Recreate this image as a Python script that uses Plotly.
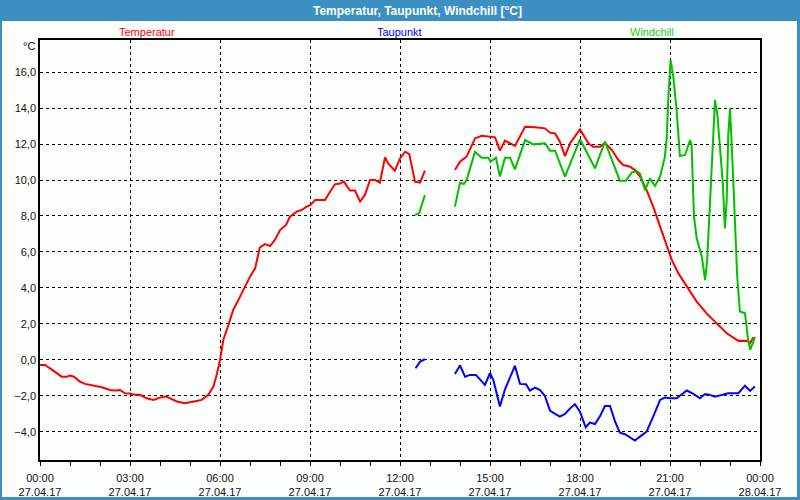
import plotly.graph_objects as go

# Stunden seit 27.04.17 00:00, None = Messlücke
temp_h = [0.0, 0.17, 0.44, 0.72, 0.89, 1.0, 1.13, 1.33, 1.5, 1.78, 2.06, 2.33, 2.5, 2.67, 2.83, 3.0,
          3.17, 3.33, 3.56, 3.78, 3.89, 4.11, 4.22, 4.39, 4.56, 4.83, 5.0, 5.22, 5.39, 5.61, 5.78, 5.89,
          6.0, 6.11, 6.28, 6.44, 6.67, 6.83, 7.0, 7.17, 7.22, 7.33, 7.5, 7.67, 7.83, 8.0, 8.2, 8.33,
          8.56, 8.72, 8.89, 9.02, 9.17, 9.5, 9.67, 9.83, 10.0, 10.13, 10.33, 10.5, 10.67, 10.83, 11.0,
          11.17, 11.33, 11.5, 11.61, 11.83, 12.0, 12.17, 12.31, 12.5, 12.67, 12.83, 13.3,
          13.83, 14.0, 14.22, 14.5, 14.72, 14.94, 15.17, 15.33, 15.5, 15.83, 16.17, 16.5, 16.83, 17.0,
          17.17, 17.33, 17.5, 17.67, 18.0, 18.28, 18.44, 18.67, 18.83, 19.06, 19.28, 19.44, 19.67,
          19.83, 20.0, 20.22, 20.44, 20.67, 20.89, 21.06, 21.28, 21.56, 21.89, 22.22, 22.56, 22.89,
          23.28, 23.56, 23.67, 23.76, 23.83]
temp_v = [-0.28, -0.28, -0.59, -0.93, -0.93, -0.87, -0.93, -1.2, -1.33, -1.43, -1.52, -1.67, -1.7, -1.67,
          -1.85, -1.87, -1.94, -1.94, -2.13, -2.22, -2.17, -2.04, -2.04, -2.17, -2.31, -2.41, -2.37, -2.28,
          -2.22, -1.94, -1.48, -0.83, 0.0, 1.11, 1.94, 2.78, 3.52, 4.07, 4.63, 5.09, 5.46, 6.26, 6.44, 6.33,
          6.67, 7.22, 7.5, 7.96, 8.24, 8.33, 8.52, 8.61, 8.89, 8.89, 9.35, 9.76, 9.81, 9.91, 9.41, 9.41, 8.8,
          9.17, 10.0, 10.0, 9.85, 11.26, 10.91, 10.52, 11.2, 11.57, 11.44, 9.91, 9.85, 10.52, None,
          10.56, 11.02, 11.3, 12.31, 12.46, 12.41, 12.37, 11.63, 12.19, 11.89, 12.96, 12.93, 12.87, 12.63,
          12.59, 12.13, 11.33, 12.04, 12.81, 12.04, 11.85, 11.85, 12.07, 11.67, 11.11, 10.83, 10.74,
          10.55, 10.19, 9.44, 8.52, 7.41, 6.3, 5.56, 4.81, 4.07, 3.24, 2.59, 2.04, 1.48,
          1.06, 1.07, 0.93, 1.2, 1.26]

tau_h = [12.52, 12.67, 12.83, 13.3, 13.83, 14.0, 14.17, 14.33, 14.53, 14.83, 15.0, 15.11, 15.33, 15.5,
         15.83, 16.0, 16.2, 16.33, 16.5, 16.67, 16.83, 17.0, 17.17, 17.33, 17.5, 17.67, 17.83, 18.0,
         18.19, 18.33, 18.5, 18.67, 18.83, 19.0, 19.17, 19.33, 19.5, 19.67, 19.83, 20.0, 20.22, 20.44,
         20.67, 20.83, 21.0, 21.22, 21.56, 21.78, 22.0, 22.17, 22.33, 22.5, 22.72, 22.94, 23.28, 23.5,
         23.67, 23.83]
tau_v = [-0.46, -0.09, 0.04, None, -0.78, -0.31, -0.93, -0.83, -0.83, -1.39, -0.74, -1.11, -2.59, -1.63,
         -0.33, -1.33, -1.35, -1.7, -1.54, -1.67, -2.0, -2.81, -3.0, -3.15, -3.0, -2.69, -2.46, -2.87,
         -3.74, -3.48, -3.56, -3.11, -2.56, -2.56, -3.43, -4.04, -4.13, -4.3, -4.48, -4.26, -3.98, -3.15,
         -2.22, -2.09, -2.13, -2.13, -1.7, -1.89, -2.13, -1.89, -1.94, -2.04, -1.94, -1.85, -1.85, -1.43,
         -1.72, -1.48]

wind_h = [12.5, 12.64, 12.83, 13.3, 13.83, 14.0, 14.13, 14.22, 14.5, 14.72, 14.94, 15.02, 15.2, 15.33,
          15.5, 15.67, 15.83, 16.17, 16.44, 16.83, 17.0, 17.17, 17.5, 18.0, 18.5, 18.83, 19.33, 19.53,
          19.72, 19.89, 20.0, 20.17, 20.33, 20.5, 20.67, 20.83, 20.89, 20.94, 21.02, 21.11, 21.22, 21.33,
          21.5, 21.67, 21.72, 21.8, 21.89, 22.06, 22.17, 22.24, 22.31, 22.39, 22.5, 22.58, 22.67, 22.76,
          22.83, 22.89, 22.94, 23.0, 23.09, 23.17, 23.24, 23.33, 23.5, 23.59, 23.67, 23.76, 23.83]
wind_v = [8.06, 8.15, 9.17, None, 8.52, 9.85, 9.78, 10.0, 11.57, 11.24, 11.24, 11.02, 11.24, 10.19,
          11.24, 11.24, 10.59, 12.22, 11.98, 12.04, 11.63, 11.63, 10.19, 12.26, 10.65, 12.13, 9.96, 9.96,
          10.41, 10.5, 10.35, 9.44, 10.09, 9.67, 10.19, 11.3, 12.31, 14.44, 16.67, 15.74, 13.89, 11.33,
          11.39, 12.22, 11.94, 7.96, 6.76, 5.74, 4.44, 5.56, 7.96, 10.74, 14.44, 13.61, 11.67, 9.81,
          7.31, 8.89, 12.41, 13.98, 10.74, 6.85, 4.63, 2.69, 2.59, 1.3, 0.56, 0.93, 1.26]

tick_h = [0, 3, 6, 9, 12, 15, 18, 21, 24]
tick_txt = ['00:00<br>27.04.17', '03:00<br>27.04.17', '06:00<br>27.04.17', '09:00<br>27.04.17',
            '12:00<br>27.04.17', '15:00<br>27.04.17', '18:00<br>27.04.17', '21:00<br>27.04.17',
            '00:00<br>28.04.17']

ROT, BLAU, GRUEN = '#ff0000', '#0000ff', '#00c000'
FONT = 'Liberation Sans'

fig = go.Figure()
fig.add_trace(go.Scatter(x=temp_h, y=temp_v, mode='lines', line=dict(color=ROT, width=2), connectgaps=False))
fig.add_trace(go.Scatter(x=tau_h, y=tau_v, mode='lines', line=dict(color=BLAU, width=2), connectgaps=False))
fig.add_trace(go.Scatter(x=wind_h, y=wind_v, mode='lines', line=dict(color=GRUEN, width=2), connectgaps=False))

fig.update_xaxes(range=[0, 24], tickmode='array', tickvals=tick_h, ticktext=tick_txt, automargin=False,
                 ticks='outside', ticklen=4, tickcolor='black', ticklabelstandoff=3,
                 minor=dict(tickvals=list(range(25)), ticks='outside', ticklen=4, tickcolor='black', showgrid=False),
                 showgrid=True, gridcolor='black', griddash='3px,3px', gridwidth=1,
                 showline=True, linecolor='black', linewidth=1.5, mirror=True, zeroline=False,
                 tickfont=dict(family=FONT, size=11, color='#111'))
fig.update_yaxes(range=[-5.56, 17.78], tick0=0, dtick=2, tickformat='.1f', ticks='', automargin=False,
                 showgrid=True, gridcolor='black', griddash='3px,3px', gridwidth=1,
                 showline=True, linecolor='black', linewidth=1.5, mirror=True, zeroline=False,
                 tickfont=dict(family=FONT, size=11, color='#111'))

# Fensterrahmen und Titelleiste (Pixel -> Papierkoordinaten)
def px(x):
    return (x - 40) / 720

def py(y):
    return (460 - y) / 420

BLAU_RAHMEN = '#3b8fc3'
shapes = [
    dict(type='rect', xref='paper', yref='paper', x0=px(0), x1=px(800), y0=py(21), y1=py(0),
         fillcolor=BLAU_RAHMEN, line=dict(width=0), layer='above'),
    dict(type='rect', xref='paper', yref='paper', x0=px(0), x1=px(2), y0=py(500), y1=py(0),
         fillcolor=BLAU_RAHMEN, line=dict(width=0), layer='above'),
    dict(type='rect', xref='paper', yref='paper', x0=px(797), x1=px(800), y0=py(500), y1=py(0),
         fillcolor=BLAU_RAHMEN, line=dict(width=0), layer='above'),
    dict(type='rect', xref='paper', yref='paper', x0=px(0), x1=px(800), y0=py(500), y1=py(497),
         fillcolor=BLAU_RAHMEN, line=dict(width=0), layer='above'),
]

def label(text, x, y, color, size=11, xanchor='center'):
    return dict(text=text, x=px(x), y=py(y), xref='paper', yref='paper', xanchor=xanchor, yanchor='middle',
                showarrow=False, font=dict(family=FONT, size=size, color=color))

annots = [
    label('<b>Temperatur, Taupunkt, Windchill [°C]</b>', 417, 10.5, 'white', size=12),
    label('Temperatur', 147, 32, ROT),
    label('Taupunkt', 399, 32, BLAU),
    label('Windchill', 652, 32, '#22cc22'),
    label('°C', 37, 46, '#111', xanchor='right'),
]

fig.update_layout(width=800, height=500, margin=dict(l=40, r=40, t=40, b=40),
                  paper_bgcolor='#fcfefc', plot_bgcolor='#fcfefc', showlegend=False,
                  separators=',.', shapes=shapes, annotations=annots)

fig.write_html("out.html", config={'displayModeBar': False, 'responsive': False},
               post_script="document.body.style.margin='0';document.body.style.overflow='hidden';")
